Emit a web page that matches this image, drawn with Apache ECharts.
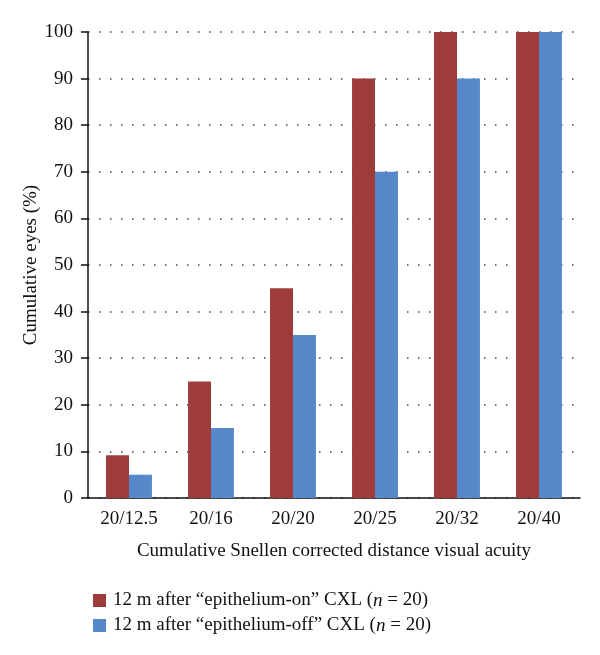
<!DOCTYPE html>
<html>
<head>
<meta charset="utf-8">
<script src="https://cdn.jsdelivr.net/npm/echarts@6/dist/echarts.min.js"></script>
<style>
  html, body { margin: 0; padding: 0; background: #fff; }
  #chart { width: 600px; height: 655px; }
</style>
</head>
<body>
<div id="chart"></div>
<script>
// data
const categories = ['20/12.5', '20/16', '20/20', '20/25', '20/32', '20/40'];
const epiOn = [9.2, 25, 45, 90, 100, 100];
const epiOff = [5, 15, 35, 70, 90, 100];
const yTicks = [0, 100, 10]; // min, max, interval

const serif = '"Liberation Serif", "DejaVu Serif", serif';
const chart = echarts.init(document.getElementById('chart'));

const legendRich = {
  a: { fontFamily: serif, fontSize: 19, color: '#111' },
  i: { fontFamily: serif, fontSize: 19, color: '#111', fontStyle: 'italic' }
};

chart.setOption({
  animation: false,
  textStyle: { fontFamily: serif },
  grid: { left: 88, right: 20, top: 32, bottom: 157 },
  legend: {
    orient: 'vertical',
    left: 88,
    top: 586,
    itemWidth: 13,
    itemHeight: 13,
    itemGap: 6,
    icon: 'rect',
    data: ['on', 'off'],
    formatter: name => name === 'on'
      ? '{a|12 m after \u201cepithelium-on\u201d CXL (}{i|n}{a| = 20)}'
      : '{a|12 m after \u201cepithelium-off\u201d CXL (}{i|n}{a| = 20)}',
    textStyle: { rich: legendRich, padding: [0, 0, 0, 2] }
  },
  xAxis: {
    type: 'category',
    data: categories,
    name: 'Cumulative Snellen corrected distance visual acuity',
    nameLocation: 'middle',
    nameGap: 44,
    nameMoveOverlap: false,
    nameTextStyle: { fontFamily: serif, fontSize: 19, color: '#111' },
    axisLine: { lineStyle: { color: '#111', width: 1.5 } },
    axisTick: { show: false },
    axisLabel: { fontFamily: serif, fontSize: 19, color: '#111', margin: 12 }
  },
  yAxis: {
    type: 'value',
    min: yTicks[0],
    max: yTicks[1],
    interval: yTicks[2],
    name: 'Cumulative eyes (%)',
    nameLocation: 'middle',
    nameGap: 47,
    nameMoveOverlap: false,
    nameTextStyle: { fontFamily: serif, fontSize: 19, color: '#111' },
    axisLine: { show: true, lineStyle: { color: '#111', width: 1.5 } },
    axisTick: { show: true, length: 7, lineStyle: { color: '#111', width: 1.5 } },
    axisLabel: { fontFamily: serif, fontSize: 19, color: '#111', margin: 15 },
    splitLine: { lineStyle: { color: '#444', type: [1.5, 9.5], width: 1.5 } }
  },
  series: [
    {
      name: 'on',
      type: 'bar',
      data: epiOn,
      barGap: '0%',
      barCategoryGap: '44%',
      itemStyle: { color: '#9E3B3B' }
    },
    {
      name: 'off',
      type: 'bar',
      data: epiOff,
      itemStyle: { color: '#5789CA' }
    }
  ]
});
</script>
</body>
</html>
